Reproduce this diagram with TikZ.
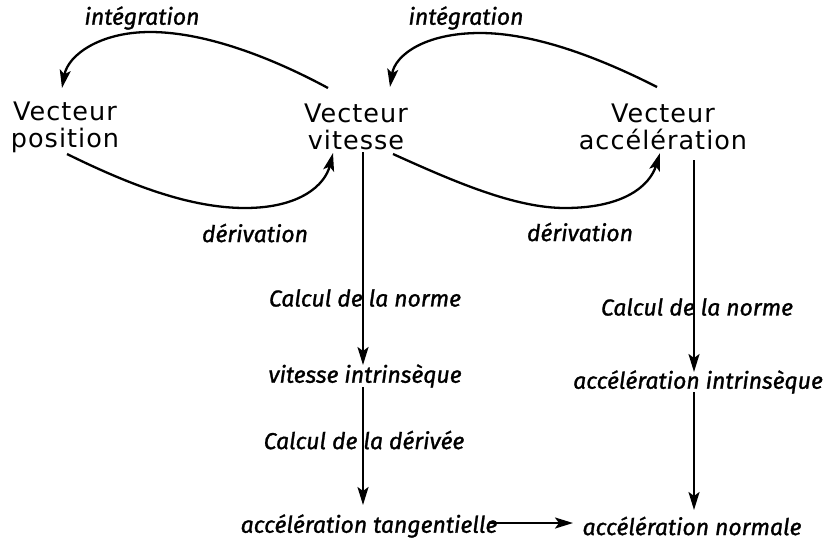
\documentclass[tikz,border=0pt]{standalone}
\usepackage{fontspec}
\setmainfont{DejaVu Sans}
\newfontfamily\labfont[FakeBold=1.2]{Fira Sans}
\usetikzlibrary{arrows.meta}
\begin{document}
\begin{tikzpicture}[x=1pt,y=-1pt,
  vec/.style={align=center,font=\fontsize{25.5}{27}\selectfont\addfontfeature{LetterSpace=4}, inner sep=0pt},
  lbl/.style={font=\labfont\itshape\fontsize{23}{26}\selectfont, inner sep=0pt},
  arr/.style={line width=2.3pt, -{Stealth[length=18pt,width=11pt,inset=4pt]}},
  ]
\useasboundingbox (0,0) rectangle (826,542);
% main nodes
\node[vec] (pos) at (65,127) {Vecteur\\position};
\node[vec] (vit) at (356,127) {Vecteur\\vitesse};
\node[vec] (acc) at (663,127) {Vecteur\\accélération};
% labels
\node[lbl] (int1) at (142,18) {intégration};
\node[lbl] (int2) at (466,18) {intégration};
\node[lbl] (der1) at (255,233) {dérivation};
\node[lbl] (der2) at (580,232) {dérivation};
\node[lbl] (cn1) at (365,298) {Calcul de la norme};
\node[lbl] (cn2) at (697,307) {Calcul de la norme};
\node[lbl] (vi) at (365,376) {vitesse intrinsèque};
\node[lbl] (ai) at (698,382) {accélération intrinsèque};
\node[lbl] (cd) at (364,440) {Calcul de la dérivée};
\node[lbl] (at) at (369,526) {accélération tangentielle};
\node[lbl] (an) at (692,526) {accélération normale};
% connector ends
\coordinate (i1s) at (328,88);  \coordinate (i1t) at (62,88);
\coordinate (d1s) at (67,154);  \coordinate (d1t) at (333,153);
\coordinate (i2s) at (657,87);  \coordinate (i2t) at (390,87);
\coordinate (d2s) at (393,154); \coordinate (d2t) at (660,153);
\coordinate (v1s) at (363,152); \coordinate (v1t) at (363,365);
\coordinate (v2s) at (363,387); \coordinate (v2t) at (363,505);
\coordinate (a1s) at (694,160); \coordinate (a1t) at (694,372);
\coordinate (a2s) at (694,392); \coordinate (a2t) at (694,510);
\coordinate (hs) at (489,523);  \coordinate (ht) at (573,523);
% curved connectors
\draw[arr] (i1s) .. controls (280,62) and (210,32) .. (150,32) .. controls (100,32) and (68,55) .. (i1t);
\draw[arr] (d1s) .. controls (130,185) and (190,208) .. (245,208) .. controls (300,208) and (325,185) .. (d1t);
\draw[arr] (i2s) .. controls (600,58) and (535,33) .. (480,33) .. controls (425,33) and (395,55) .. (i2t);
\draw[arr] (d2s) .. controls (455,182) and (515,208) .. (565,208) .. controls (625,208) and (650,185) .. (d2t);
% straight connectors
\draw[arr] (v1s) -- (v1t);
\draw[arr] (v2s) -- (v2t);
\draw[arr] (a1s) -- (a1t);
\draw[arr] (a2s) -- (a2t);
\draw[arr] (hs) -- (ht);
\end{tikzpicture}
\end{document}
